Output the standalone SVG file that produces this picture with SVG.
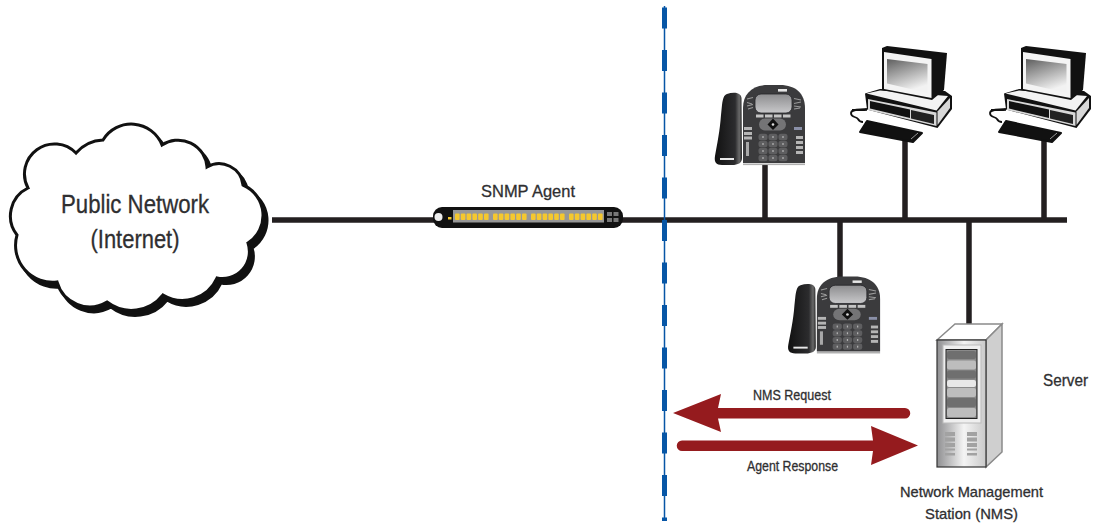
<svg xmlns="http://www.w3.org/2000/svg" xmlns:xlink="http://www.w3.org/1999/xlink" width="1096" height="525" viewBox="0 0 1096 525">
<style>
text{font-family:"Liberation Sans Narrow","Liberation Sans",Arial,sans-serif;fill:#2f2f31;stroke:#2f2f31;stroke-width:.3;text-anchor:middle}
.bus{stroke:#231f20;stroke-width:5.5;fill:none}
.arrow{fill:#951b1e}
.key{fill:#5e5e60}
.kd{fill:#b5b5b5}
.lt{fill:#c4c4c4}
.port{fill:#f5c82e}
.vent{fill:#a2a2a2}
.row1{fill:#6f6f6f}
.row2{fill:#bdbdbd}
</style>
<defs>
<linearGradient id="scr" x1="0" y1="0" x2="0.4" y2="1"><stop offset="0" stop-color="#5e5e5e"/><stop offset="1" stop-color="#f2f2f2"/></linearGradient>
<linearGradient id="lcd" x1="0" y1="0" x2="0" y2="1"><stop offset="0" stop-color="#8d8d8f"/><stop offset="1" stop-color="#c8c8ca"/></linearGradient>
<linearGradient id="hs" x1="0" y1="0" x2="1" y2="0"><stop offset="0" stop-color="#111"/><stop offset=".75" stop-color="#2c2c2e"/><stop offset=".9" stop-color="#6a6a6a"/><stop offset="1" stop-color="#222"/></linearGradient>
<linearGradient id="srv" x1="0" y1="0" x2="1" y2="0"><stop offset="0" stop-color="#8f8f91"/><stop offset=".55" stop-color="#f4f4f4"/><stop offset="1" stop-color="#c9c9c9"/></linearGradient>
<path id="cloudpath" d="M28 188A30 30 0 0 1 76 153A38 38 0 0 1 103 140A33 33 0 0 1 162 145A29 29 0 0 1 207 167A24 24 0 0 1 243 185A33 33 0 0 1 248 243A27 27 0 0 1 217 278A38 38 0 0 1 163 295A40 40 0 0 1 107 302A34 34 0 0 1 57 282A37 37 0 0 1 17 235A31 31 0 0 1 28 188Z"/>
<g id="port6"><rect class="port" x="0" y="0" width="4.600" height="6.500" rx="1"/><rect class="port" x="5.800" y="0" width="4.600" height="6.500" rx="1"/><rect class="port" x="11.600" y="0" width="4.600" height="6.500" rx="1"/><rect class="port" x="17.400" y="0" width="4.600" height="6.500" rx="1"/><rect class="port" x="23.200" y="0" width="4.600" height="6.500" rx="1"/><rect class="port" x="29" y="0" width="4.600" height="6.500" rx="1"/></g>
<g id="keyrow"><rect class="key" x="-4.500" y="-3.200" width="9" height="6.500" rx="2.500"/><rect class="key" x="5.500" y="-3.200" width="9" height="6.500" rx="2.500"/><rect class="key" x="15.500" y="-3.200" width="9" height="6.500" rx="2.500"/><rect class="kd" x="-.6" y="-1" width="1.200" height="2"/><rect class="kd" x="9.400" y="-1" width="1.200" height="2"/><rect class="kd" x="19.400" y="-1" width="1.200" height="2"/></g>
<g id="phone">
<path d="M743 163V108C743 94 752 85 768 85H780C796 85 805 94 805 108V163Z" fill="#3b3b3d"/>
<rect x="743" y="163.500" width="62" height="1.600" fill="#b0b0b0"/>
<rect x="755" y="94" width="37" height="19" rx="6" fill="url(#lcd)" stroke="#26262a" stroke-width=".8"/>
<rect x="778" y="89" width="9" height="2.600" fill="#e6e6e6"/>
<rect x="756" y="114.500" width="7.500" height="3" class="lt"/><rect x="765" y="114.500" width="7.500" height="3" class="lt"/><rect x="774" y="114.500" width="7.500" height="3" class="lt"/><rect x="783" y="114.500" width="7.500" height="3" class="lt"/>
<rect x="759" y="118.500" width="27" height="12" rx="6" fill="#747476"/>
<path d="M773 118.500L778.500 124.500L773 130L767.500 124.500Z" fill="#111"/><circle cx="773" cy="124.500" r="1.300" fill="#ddd"/>
<use href="#keyrow" x="763" y="137"/><use href="#keyrow" x="763" y="144"/><use href="#keyrow" x="763" y="151"/><use href="#keyrow" x="763" y="158"/>
<rect x="744" y="127" width="8" height="3" class="kd"/><rect x="744" y="132" width="8" height="3" class="kd"/><rect x="744" y="136.500" width="8" height="3" class="kd"/>
<rect x="746" y="142" width="3" height="14" fill="#a8a8a8"/>
<rect x="794" y="127" width="8" height="3" fill="#8a90a8"/>
<rect x="796" y="136" width="7" height="3" class="kd"/><rect x="796" y="141" width="7" height="3" class="kd"/><rect x="796" y="146" width="7" height="3" class="kd"/><rect x="796" y="151" width="7" height="3" class="kd"/>
<path d="M747 99l6-1.500M747 102.500l5 1.500M747 106l6-1.500M748 109l5-1.500M794 98.500l7 1.500M794 103.500l7-1.500M794 106l7 1M794 109l6-1" stroke="#9a9a9a" stroke-width="1.100" fill="none"/>
<path d="M727 94C733 92 741 92 741.500 98L742 158C742 163 738 165 732 165H722C716 165 714 162 715 156C717 145 720 130 721 115L722 105C723 98 724 95 727 94Z" fill="url(#hs)"/>
<rect x="720" y="158" width="14" height="2" fill="#e8e8e8"/>
</g>
<g id="computer">
<path d="M852 110H867M867 109C858 110 851 109 851 113C851 118 856 116 858 119C859 121 860 122 863 122" stroke="#111" stroke-width="1.800" fill="none"/>
<path d="M865 93.500L880 89L945 91L952 96V109L937.500 128L867 109.500Z" fill="#111"/>
<path d="M868 99L936.500 112.500V126L868 110Z" fill="#d8d8d8"/>
<path d="M870 101L910 109.500V118L870 108.500Z" fill="#111"/>
<path d="M911 110L934 115V124L911 118.500Z" fill="#222"/>
<path d="M866.500 93.500L880 90.500L948 96L936.500 110.500Z" fill="#f2f2f2"/>
<path d="M937.500 111.500L950 98V108L937.500 125Z" fill="#d8d8d8"/>
<path d="M882 48L887 46L947 53L944 90L932 100L882 90Z" fill="#111"/>
<path d="M884 52L931.500 59V98L884 89Z" fill="#f4f4f4"/>
<path d="M887 59L927.500 64V93L887 83.500Z" fill="url(#scr)"/>
<path d="M867 121L922 133L913 142L860 132Z" fill="#111" stroke="#111" stroke-width="2" stroke-linejoin="round"/>
<path d="M911 139L918 133" stroke="#bbb" stroke-width=".8"/>
</g>
</defs>

<g id="connectors">
<path class="bus" d="M272 220H1067M765 164V220M905 140V220M1044 140V220M840 220V280M969 220V330"/>
<path d="M664.500 6V521" stroke="#0756a6" stroke-width="1.500" fill="none"/>
<path d="M664.500 7.500V521" stroke="#0756a6" stroke-width="5" stroke-dasharray="21 21.500" fill="none"/>
<path class="arrow" d="M673 413L721 394L718 408H905a5 5 0 0 1 0 10.500H718L721 432Z"/>
<path class="arrow" d="M918 445.500L871 426L873 440.500H682a5 5 0 0 0 0 10.500H873L871 465Z"/>
</g>

<g id="cloud">
<use href="#cloudpath" transform="translate(4 5)" fill="#111" stroke="#111" stroke-width="3"/>
<use href="#cloudpath" fill="#fff" stroke="#111" stroke-width="3"/>
<text x="135" y="213" font-size="25" textLength="148" lengthAdjust="spacingAndGlyphs">Public Network</text>
<text x="135" y="248" font-size="25" textLength="89" lengthAdjust="spacingAndGlyphs">(Internet)</text>
</g>

<g id="snmp-agent">
<rect x="433" y="207" width="190" height="21" rx="9" fill="#111"/>
<rect x="453" y="210" width="151" height="12.500" fill="#979797"/>
<use href="#port6" x="455" y="213.500"/><use href="#port6" x="493" y="213.500"/><use href="#port6" x="531" y="213.500"/><use href="#port6" x="569" y="213.500"/>
<circle cx="438.500" cy="217" r="4" fill="#eee"/>
<rect x="448" y="217" width="3.500" height="2.500" class="port"/>
<rect x="607" y="212" width="5" height="4" fill="#777"/><rect x="613.500" y="212" width="5" height="4" fill="#777"/><rect x="607" y="218" width="5" height="4" fill="#777"/><rect x="613.500" y="218" width="5" height="4" fill="#777"/>
<text x="528" y="197" font-size="17" textLength="94" lengthAdjust="spacingAndGlyphs">SNMP Agent</text>
</g>

<g id="phone-1"><use href="#phone"/></g>
<g id="phone-2"><use href="#phone" transform="translate(59 195) scale(1.02 .96)"/></g>
<g id="computer-1"><use href="#computer"/></g>
<g id="computer-2"><use href="#computer" x="139"/></g>

<g id="server">
<path d="M937 340L955 324H1002L986 340Z" fill="#fff" stroke="#8a8a8a" stroke-width="1.500"/>
<path d="M986 340L1002 324V452L986 467Z" fill="#cfcfcf" stroke="#8a8a8a" stroke-width="1.500"/>
<rect x="937" y="340" width="49" height="127" fill="url(#srv)" stroke="#333" stroke-width="1.200"/>
<rect x="943" y="345" width="38" height="78" fill="#efefef" stroke="#bbb"/>
<rect x="946" y="349.500" width="31" height="69" fill="#8a8a8a" stroke="#222" stroke-width="1"/>
<rect class="row1" x="947" y="351" width="29" height="8" rx="2"/><rect class="row2" x="947" y="360.500" width="29" height="9" rx="2"/><rect class="row1" x="947" y="370.500" width="29" height="8" rx="2"/><rect x="947" y="380" width="29" height="7" rx="2" fill="#e8e8e8"/><rect class="row2" x="947" y="388" width="29" height="9" rx="2"/><rect class="row1" x="947" y="398" width="29" height="9" rx="2"/><rect class="row2" x="947" y="408" width="29" height="9" rx="2"/>
<path class="vent" d="M945 432h10v4h-10zM945 437.500h10v4h-10zM945 443h10v4h-10zM945 448.500h10v2h-10zM945 453h10v2.500h-10zM967 432h10v4h-10zM967 437.500h10v4h-10zM967 443h10v4h-10zM967 448.500h10v2h-10zM967 453h10v2.500h-10z"/>
<text x="971.500" y="497" font-size="15" textLength="143" lengthAdjust="spacingAndGlyphs">Network Management</text>
<text x="971.500" y="519" font-size="15" textLength="93" lengthAdjust="spacingAndGlyphs">Station (NMS)</text>
</g>

<g id="labels">
<text x="1065.500" y="386" font-size="16" textLength="45" lengthAdjust="spacingAndGlyphs">Server</text>
<text x="792" y="400" font-size="14" textLength="78" lengthAdjust="spacingAndGlyphs">NMS Request</text>
<text x="792.500" y="471" font-size="14" textLength="91" lengthAdjust="spacingAndGlyphs">Agent Response</text>
</g>
</svg>
